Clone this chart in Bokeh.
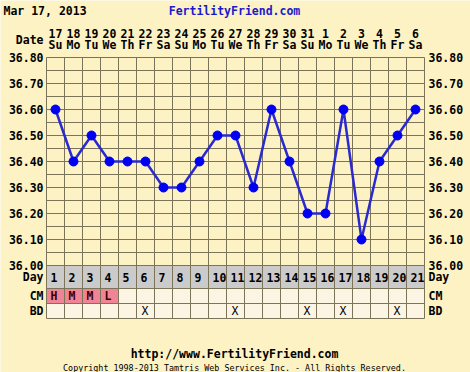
from bokeh.plotting import figure
from bokeh.models import ColumnDataSource, LabelSet, Range1d
from bokeh.core.properties import value
from bokeh.embed import file_html
from bokeh.resources import INLINE

# ---------------- data ----------------
cycle_days = [1, 2, 3, 4, 5, 6, 7, 8, 9, 10, 11, 12, 13, 14, 15, 16, 17, 18, 19, 20, 21]
dates = ["17", "18", "19", "20", "21", "22", "23", "24", "25", "26", "27",
         "28", "29", "30", "31", "1", "2", "3", "4", "5", "6"]
weekdays = ["Su", "Mo", "Tu", "We", "Th", "Fr", "Sa", "Su", "Mo", "Tu", "We",
            "Th", "Fr", "Sa", "Su", "Mo", "Tu", "We", "Th", "Fr", "Sa"]
temps = [36.60, 36.40, 36.50, 36.40, 36.40, 36.40, 36.30, 36.30, 36.40, 36.50, 36.50,
         36.30, 36.60, 36.40, 36.20, 36.20, 36.60, 36.10, 36.40, 36.50, 36.60]
cm = ["H", "M", "M", "L", "", "", "", "", "", "", "", "", "", "", "", "", "", "", "", "", ""]
bd = ["", "", "", "", "", "X", "", "", "", "", "X", "", "", "", "X", "", "X", "", "", "X", ""]
temp_ticks = [36.00, 36.10, 36.20, 36.30, 36.40, 36.50, 36.60, 36.70, 36.80]
row_labels = ["Day", "CM", "BD"]
chart_date = "Mar 17, 2013"
site = "FertilityFriend.com"
url = "http://www.FertilityFriend.com"
copyright_text = "Copyright 1998-2013 Tamtris Web Services Inc. - All Rights Reserved."

# ---------------- layout / style ----------------
W, H = 470, 372
PXD = 18.0      # px per day
PXT = 260.0     # px per degree
LEFT_PX, TOP_PX = 46, 57          # position of day 0.5 / 36.80 on the canvas
T_LO, T_HI = 36.0, 36.8
ROW_PX = [23, 15, 15]
row_edges = [T_LO]
for h in ROW_PX:
    row_edges.append(row_edges[-1] - h / PXT)
Y_BOT = row_edges[-1]
row_centers = [(row_edges[i] + row_edges[i + 1]) / 2 for i in range(3)]
X_L, X_R = 0.5, 21.5


def xpx(px):
    return X_L + (px - LEFT_PX) / PXD


def ypx(py):
    return T_HI + (TOP_PX - py) / PXT


BG = "#fcf2c4"
CELL = "#fcf5e3"
GRAY = "#cbcbcb"
PINK = "#f08497"
GRID = "#7c7459"
FONT = value("DejaVu Sans Mono")
FS = value("11.5px")

p = figure(width=W, height=H, title=None,
           x_range=Range1d(xpx(0), xpx(W)), y_range=Range1d(ypx(H), ypx(0)),
           x_axis_type=None, y_axis_type=None,
           toolbar_location=None, output_backend="svg",
           min_border=0, background_fill_color=BG, border_fill_color=BG,
           outline_line_color=None)

# table backgrounds
p.quad(left=[X_L], right=[X_R], top=[row_edges[0]], bottom=[row_edges[1]],
       fill_color=GRAY, line_color=None)
p.quad(left=[X_L], right=[X_R], top=[row_edges[1]], bottom=[Y_BOT],
       fill_color=CELL, line_color=None)
pink_days = [d for d, c in zip(cycle_days, cm) if c]
p.quad(left=[d - 0.5 for d in pink_days], right=[d + 0.5 for d in pink_days],
       top=[row_edges[1]] * len(pink_days), bottom=[row_edges[2]] * len(pink_days),
       fill_color=PINK, line_color=None)

# grid lines
vx = [d - 0.5 for d in cycle_days] + [X_R]
p.segment(x0=vx, x1=vx, y0=[Y_BOT] * len(vx), y1=[T_HI] * len(vx), line_color=GRID, line_width=1)
hy = [T_LO + 0.05 * i for i in range(1, 17)] + row_edges
p.segment(x0=[X_L] * len(hy), x1=[X_R] * len(hy), y0=hy, y1=hy, line_color=GRID, line_width=1)

# temperature curve
p.line(cycle_days, temps, line_color="#2a2ad0", line_width=2.5)
p.scatter(cycle_days, temps, size=9, fill_color="#0000f0", line_color="#0000f0")


def labels(xs, ys, texts, align="center", xoff=0, color="#000000", weight="bold", size=FS):
    src = ColumnDataSource(dict(x=xs, y=ys, t=texts))
    ls = LabelSet(x="x", y="y", text="t", source=src, x_offset=xoff,
                  text_align=align, text_baseline="middle", text_font=FONT,
                  text_font_size=size, text_font_style=weight, text_color=color)
    p.add_layout(ls)


# dates header
labels(cycle_days, [ypx(33)] * 21, dates)
labels(cycle_days, [ypx(44)] * 21, weekdays)
labels([X_L], [ypx(39)], ["Date"], align="right", xoff=-3)

# temperature labels both sides
labels([X_L] * len(temp_ticks), temp_ticks, ["%.2f" % t for t in temp_ticks], align="right", xoff=-3)
labels([X_R] * len(temp_ticks), temp_ticks, ["%.2f" % t for t in temp_ticks], align="left", xoff=4)

# row labels
labels([X_L] * 3, row_centers, row_labels, align="right", xoff=-3)
labels([X_R] * 3, row_centers, row_labels, align="left", xoff=4)

# table contents
labels([d - 0.5 for d in cycle_days], [row_centers[0]] * 21, [str(d) for d in cycle_days], align="left", xoff=4)
labels([d - 0.5 for d in cycle_days], [row_centers[1]] * 21, cm, align="left", xoff=4, color="#3a0000")
labels([d - 0.5 for d in cycle_days], [row_centers[2]] * 21, bd, align="left", xoff=5, weight="normal")

# titles
labels([xpx(3)], [ypx(10)], [chart_date], align="left")
labels([xpx(234)], [ypx(10)], [site], color="#1a1acc")
labels([xpx(234)], [ypx(353)], [url])
labels([xpx(234)], [ypx(367)], [copyright_text], weight="normal", size=value("8.4px"))

open("out.html", "w").write(file_html(p, INLINE))
